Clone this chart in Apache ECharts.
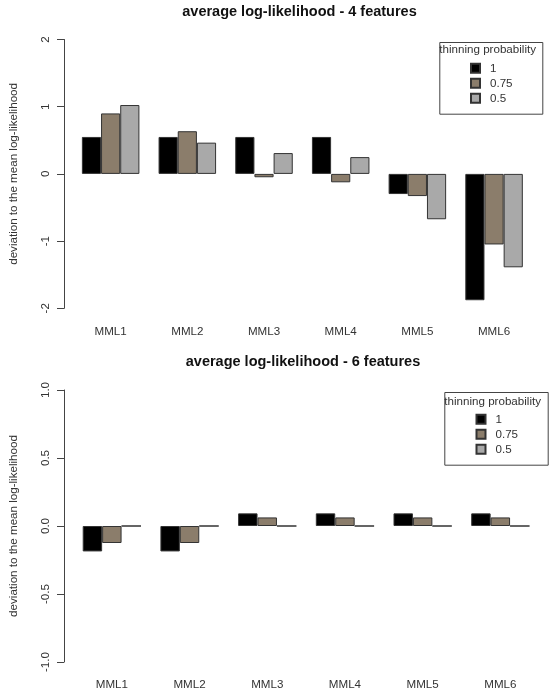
<!DOCTYPE html>
<html>
<head>
<meta charset="utf-8">
<script src="https://cdn.jsdelivr.net/npm/echarts@6/dist/echarts.min.js"></script>
<style>
  html, body { margin: 0; padding: 0; background: #fff; }
  #main { width: 550px; height: 696px; }
</style>
</head>
<body>
<div id="main"></div>
<script>
// categories and series values
var categories = ['MML1', 'MML2', 'MML3', 'MML4', 'MML5', 'MML6'];
var seriesNames = ['1', '0.75', '0.5'];

// average log-likelihood - 4 features
var top_p1 = [0.55, 0.55, 0.55, 0.55, -0.30, -1.88];
var top_p075 = [0.90, 0.635, -0.05, -0.125, -0.33, -1.05];
var top_p05 = [1.025, 0.465, 0.31, 0.25, -0.675, -1.39];

// average log-likelihood - 6 features
var bot_p1 = [-0.187, -0.187, 0.093, 0.093, 0.093, 0.093];
var bot_p075 = [-0.125, -0.125, 0.063, 0.063, 0.063, 0.063];
var bot_p05 = [0, 0, 0, 0, 0, 0];

// y axis ticks
var topTicks = [-2, -1, 0, 1, 2];
var botTicks = [-1.0, -0.5, 0.0, 0.5, 1.0];

var colors = ['#000000', '#8B7D6B', '#A9A9A9'];
var font = 'Liberation Sans, Arial, sans-serif';

function barSeries(name, data, idx, color) {
    return {
        name: name,
        type: 'bar',
        xAxisIndex: idx,
        yAxisIndex: idx,
        data: data,
        barGap: '0%',
        barCategoryGap: '25%',
        itemStyle: { color: color, borderColor: '#333', borderWidth: 1 },
        emphasis: { disabled: true }
    };
}

function xAx(idx) {
    return {
        type: 'category',
        gridIndex: idx,
        data: categories,
        axisLine: { show: false, onZero: false },
        axisTick: { show: false },
        axisLabel: { margin: 17, fontSize: 11.6, color: '#333', fontFamily: font }
    };
}

function yAx(idx, ticks, off, digits) {
    return {
        type: 'value',
        gridIndex: idx,
        min: ticks[0],
        max: ticks[ticks.length - 1],
        interval: ticks[1] - ticks[0],
        offset: off,
        splitLine: { show: false },
        axisLine: { show: true, lineStyle: { color: '#444', width: 1 } },
        axisTick: { show: true, length: 7, lineStyle: { color: '#444' } },
        axisLabel: {
            rotate: 90, margin: 12, fontSize: 11.6, color: '#333', fontFamily: font,
            formatter: function (v) { return v.toFixed(digits); }
        },
        name: 'deviation to the mean log-likelihood',
        nameLocation: 'middle',
        nameGap: 44,
        nameTextStyle: { fontSize: 11.6, color: '#333', fontFamily: font }
    };
}

function legendBox(x, y, w, h, tx, ty) {
    return [
        { type: 'rect', left: x, top: y, shape: { width: w, height: h },
          style: { fill: 'none', stroke: '#444', lineWidth: 1 }, z: 10 },
        { type: 'text', x: tx, y: ty,
          style: { text: 'thinning probability', font: '11.6px ' + font, fill: '#333',
                   textVerticalAlign: 'middle' }, z: 10 }
    ];
}

var myChart = echarts.init(document.getElementById('main'));

var option = {
    animation: false,
    backgroundColor: '#fff',
    title: [
        { text: 'average log-likelihood - 4 features', left: 299.5, top: 4, textAlign: 'center', padding: 0,
          textStyle: { fontSize: 14.5, fontWeight: 'bold', color: '#111', fontFamily: font } },
        { text: 'average log-likelihood - 6 features', left: 303, top: 354, textAlign: 'center', padding: 0,
          textStyle: { fontSize: 14.5, fontWeight: 'bold', color: '#111', fontFamily: font } }
    ],
    legend: [
        { data: seriesNames, orient: 'vertical', left: 470, top: 60.8, padding: 0,
          icon: 'rect', itemWidth: 9, itemHeight: 9, itemGap: 0,
          textStyle: { fontSize: 11.6, color: '#333', fontFamily: font, lineHeight: 15, padding: [0, 0, 0, 5] } },
        { data: seriesNames, orient: 'vertical', left: 475.5, top: 411.8, padding: 0,
          icon: 'rect', itemWidth: 9, itemHeight: 9, itemGap: 0,
          textStyle: { fontSize: 11.6, color: '#333', fontFamily: font, lineHeight: 15, padding: [0, 0, 0, 5] } }
    ],
    grid: [
        { left: 69.7, right: 17.6, top: 39.5, height: 268.8 },
        { left: 71.3, right: 10.8, top: 390, height: 272 }
    ],
    xAxis: [xAx(0), xAx(1)],
    yAxis: [yAx(0, topTicks, 8.3, 0), yAx(1, botTicks, 9, 1)],
    series: [
        barSeries(seriesNames[0], top_p1, 0, colors[0]),
        barSeries(seriesNames[1], top_p075, 0, colors[1]),
        barSeries(seriesNames[2], top_p05, 0, colors[2]),
        barSeries(seriesNames[0], bot_p1, 1, colors[0]),
        barSeries(seriesNames[1], bot_p075, 1, colors[1]),
        barSeries(seriesNames[2], bot_p05, 1, colors[2])
    ],
    graphic: legendBox(437.3, 40, 103, 71.7, 439.3, 50)
        .concat(legendBox(442.3, 390, 103.4, 72.7, 444.3, 401.7))
};

myChart.setOption(option);
</script>
</body>
</html>
